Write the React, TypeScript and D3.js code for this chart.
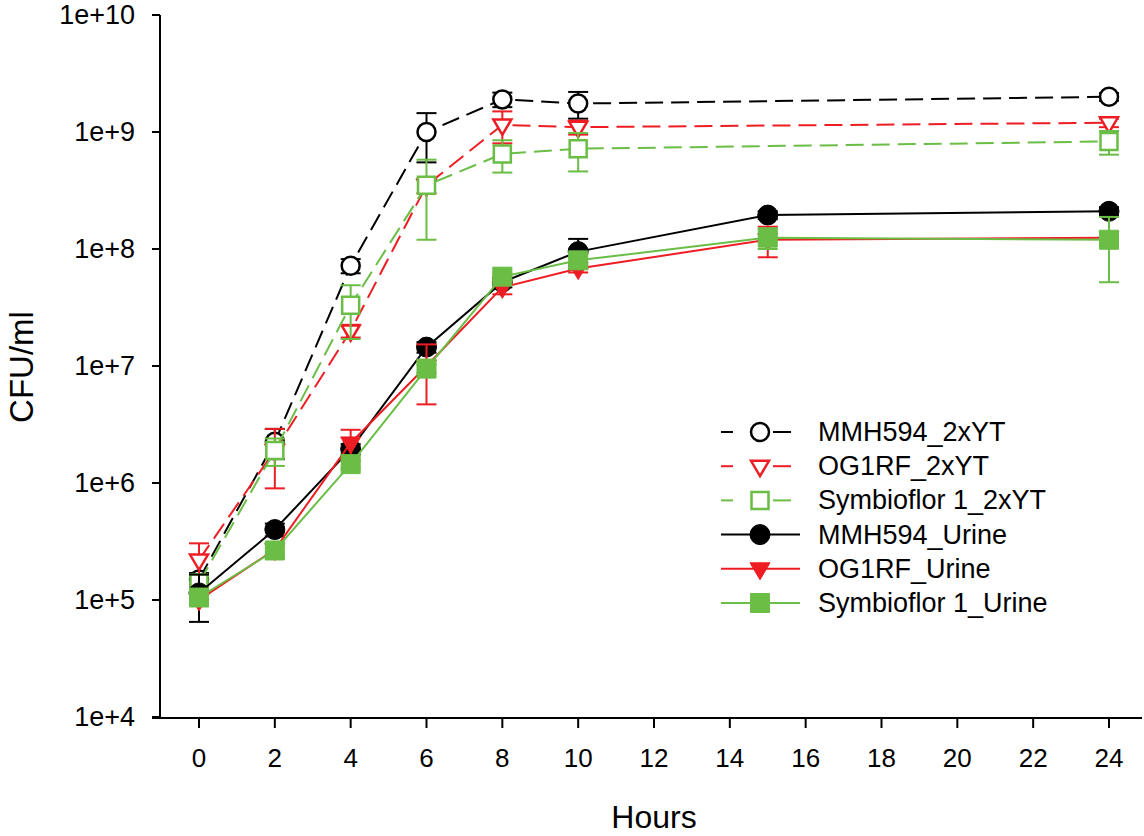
import React from 'react';
import * as d3 from 'd3';

// sampling times (hours)
const hours2xYT = [0, 2, 4, 6, 8, 10, 24];
const hoursUrine = [0, 2, 4, 6, 8, 10, 15, 24];

// CFU/ml means and standard deviations
const mmh594_2xYT = [1.5e5, 2.25e6, 7.2e7, 1.0e9, 1.9e9, 1.75e9, 2.0e9];
const mmh594_2xYT_sd = [2e4, 6.5e5, 1.0e7, 4.5e8, 2.7e8, 4.5e8, 1.5e8];
const og1rf_2xYT = [2.2e5, 1.9e6, 2.0e7, 3.5e8, 1.15e9, 1.1e9, 1.2e9];
const og1rf_2xYT_sd = [8.5e4, 1.0e6, 2.5e6, 5e7, 3.5e8, 1.5e8, 1.0e8];
const symb_2xYT = [1.4e5, 1.9e6, 3.3e7, 3.5e8, 6.5e8, 7.2e8, 8.3e8];
const symb_2xYT_sd = [2e4, 5e5, 1.6e7, 2.3e8, 2.0e8, 2.6e8, 1.9e8];

const mmh594_Urine = [1.15e5, 4.0e5, 1.95e6, 1.45e7, 5.2e7, 9.5e7, 1.95e8, 2.1e8];
const mmh594_Urine_sd = [5e4, 5e4, 2e5, 1.5e6, 5e6, 2.7e7, 1.5e7, 1.8e7];
const og1rf_Urine = [1.0e5, 2.7e5, 2.2e6, 1.0e7, 4.7e7, 6.8e7, 1.2e8, 1.25e8];
const og1rf_Urine_sd = [1e4, 3e4, 6.5e5, 5.3e6, 6e6, 5e6, 3.5e7, 1e7];
const symb_Urine = [1.05e5, 2.65e5, 1.45e6, 9.5e6, 5.8e7, 8.0e7, 1.25e8, 1.2e8];
const symb_Urine_sd = [1.2e4, 4e4, 1.2e5, 8e5, 4e6, 1e7, 2.5e7, 6.8e7];

const xTicks = [0, 2, 4, 6, 8, 10, 12, 14, 16, 18, 20, 22, 24];
const yTicks = [1e4, 1e5, 1e6, 1e7, 1e8, 1e9, 1e10];
const yTickLabels = ['1e+4', '1e+5', '1e+6', '1e+7', '1e+8', '1e+9', '1e+10'];

const BLACK = '#000000';
const RED = '#ee1d23';
const GREEN = '#6abd45';

type Marker = 'circle' | 'triangle' | 'square';

const series = [
  { name: 'MMH594_2xYT', x: hours2xYT, y: mmh594_2xYT, sd: mmh594_2xYT_sd, color: BLACK, dashed: true, marker: 'circle' as Marker, filled: false },
  { name: 'OG1RF_2xYT', x: hours2xYT, y: og1rf_2xYT, sd: og1rf_2xYT_sd, color: RED, dashed: true, marker: 'triangle' as Marker, filled: false },
  { name: 'Symbioflor 1_2xYT', x: hours2xYT, y: symb_2xYT, sd: symb_2xYT_sd, color: GREEN, dashed: true, marker: 'square' as Marker, filled: false },
  { name: 'MMH594_Urine', x: hoursUrine, y: mmh594_Urine, sd: mmh594_Urine_sd, color: BLACK, dashed: false, marker: 'circle' as Marker, filled: true },
  { name: 'OG1RF_Urine', x: hoursUrine, y: og1rf_Urine, sd: og1rf_Urine_sd, color: RED, dashed: false, marker: 'triangle' as Marker, filled: true },
  { name: 'Symbioflor 1_Urine', x: hoursUrine, y: symb_Urine, sd: symb_Urine_sd, color: GREEN, dashed: false, marker: 'square' as Marker, filled: true },
];

const FONT = '"Liberation Sans", Arial, sans-serif';

function markerPath(m: Marker, filled: boolean) {
  if (m === 'circle') {
    const r = filled ? 10 : 9;
    return `M${r},0A${r},${r} 0 1,1 ${-r},0A${r},${r} 0 1,1 ${r},0Z`;
  }
  if (m === 'square') {
    const s = filled ? 9.5 : 8.5;
    return `M${-s},${-s}H${s}V${s}H${-s}Z`;
  }
  // downward triangle
  const w = filled ? 10 : 9;
  return `M${-w},${-w * 0.6}L${w},${-w * 0.6}L0,${w * 1.1}Z`;
}

function Sym({ m, filled, color, x, y }: { m: Marker; filled: boolean; color: string; x: number; y: number }) {
  return (
    <path
      d={markerPath(m, filled)}
      transform={`translate(${x},${y})`}
      fill={filled ? color : '#ffffff'}
      stroke={color}
      strokeWidth={filled ? 1 : 2.5}
    />
  );
}

export default function App() {
  const x = d3.scaleLinear().domain([0, 24]).range([199, 1109]);
  const y = d3.scaleLog().domain([1e4, 1e10]).range([717, 15]);
  const axisX = 160;
  const axisY = 718;
  const line = d3.line<[number, number]>().x(d => x(d[0])).y(d => y(d[1]));

  return (
    <svg width={1144} height={836} style={{ position: 'absolute', left: 0, top: 0, background: '#fff' }} fontFamily={FONT}>
      {/* y axis */}
      <line x1={axisX} x2={axisX} y1={y(1e10)} y2={axisY} stroke="#000" strokeWidth={2} />
      {yTicks.map((t, i) => (
        <g key={t}>
          <line x1={axisX - 8} x2={axisX} y1={y(t)} y2={y(t)} stroke="#000" strokeWidth={2} />
          <text x={135} y={y(t)} textAnchor="end" dominantBaseline="central" fontSize={27}>{yTickLabels[i]}</text>
        </g>
      ))}
      {/* x axis */}
      <line x1={152} x2={1142} y1={axisY} y2={axisY} stroke="#000" strokeWidth={2} />
      {xTicks.map(t => (
        <g key={t}>
          <line x1={x(t)} x2={x(t)} y1={axisY} y2={axisY + 10} stroke="#000" strokeWidth={2} />
          <text x={x(t)} y={767} textAnchor="middle" fontSize={26}>{t}</text>
        </g>
      ))}
      <text x={654} y={828} textAnchor="middle" fontSize={32}>Hours</text>
      <text transform="translate(33,367) rotate(-90)" textAnchor="middle" fontSize={33}>CFU/ml</text>

      {series.map(s => {
        const pts = s.x.map((h, i) => [h, s.y[i]] as [number, number]);
        return (
          <g key={s.name}>
            {pts.map(([h, v], i) => {
              const hi = v + s.sd[i];
              const lo = v - s.sd[i];
              const cx = x(h);
              return (
                <g key={i} stroke={s.color} strokeWidth={2}>
                  <line x1={cx} x2={cx} y1={y(hi)} y2={lo > 0 ? y(lo) : y(v)} />
                  <line x1={cx - 10} x2={cx + 10} y1={y(hi)} y2={y(hi)} />
                  {lo > 0 && <line x1={cx - 10} x2={cx + 10} y1={y(lo)} y2={y(lo)} />}
                </g>
              );
            })}
            <path d={line(pts) || ''} fill="none" stroke={s.color} strokeWidth={2} strokeDasharray={s.dashed ? '18,8' : undefined} />
            {pts.map(([h, v], i) => (
              <Sym key={i} m={s.marker} filled={s.filled} color={s.color} x={x(h)} y={y(v)} />
            ))}
          </g>
        );
      })}

      {/* legend */}
      {series.map((s, i) => {
        const ly = 432 + i * 34.2;
        return (
          <g key={s.name}>
            {s.dashed ? (
              <>
                <line x1={721} x2={733} y1={ly} y2={ly} stroke={s.color} strokeWidth={2} />
                <line x1={773} x2={791} y1={ly} y2={ly} stroke={s.color} strokeWidth={2} />
              </>
            ) : (
              <line x1={721} x2={800} y1={ly} y2={ly} stroke={s.color} strokeWidth={2} />
            )}
            <Sym m={s.marker} filled={s.filled} color={s.color} x={760} y={ly} />
            <text x={818} y={ly} dominantBaseline="central" fontSize={27}>{s.name}</text>
          </g>
        );
      })}
    </svg>
  );
}
